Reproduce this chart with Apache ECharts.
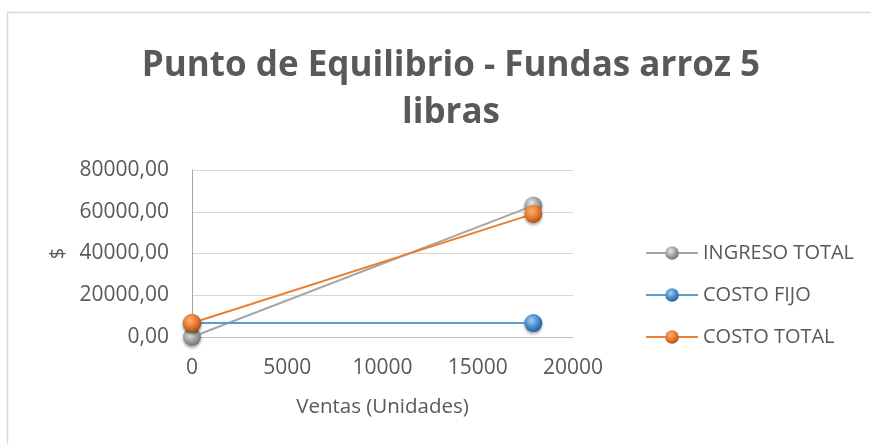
<!DOCTYPE html>
<html>
<head>
<meta charset="utf-8">
<script src="https://cdn.jsdelivr.net/npm/echarts@6/dist/echarts.min.js"></script>
<style>html,body{margin:0;padding:0;background:#fff}#c{width:871px;height:444px}</style>
</head>
<body>
<div id="c"></div>
<script>
var ventas = [0, 17917];
var ingresoTotal = [0, 62950];
var costoFijo = [6700, 6700];
var costoTotal = [6700, 58970];
var seriesNames = ['INGRESO TOTAL', 'COSTO FIJO', 'COSTO TOTAL'];
var yTicks = [0, 20000, 40000, 60000, 80000];
var xTicks = [0, 5000, 10000, 15000, 20000];

var FONT = 'Open Sans';
var TXT = '#595959';
function sphere(light, mid, dark) {
  return {type: 'radial', x: 0.4, y: 0.35, r: 0.7,
    colorStops: [{offset: 0, color: light}, {offset: 0.5, color: mid}, {offset: 1, color: dark}]};
}
var styles = [
  {line: '#a5a5a5', fill: sphere('#e8e8e8', '#a5a5a5', '#6e6e6e')},
  {line: '#5b9bd5', fill: sphere('#a9d0f2', '#4a90d0', '#22598e')},
  {line: '#ed7d31', fill: sphere('#fbb27a', '#ed7d31', '#a34d10')}
];
var dataSets = [ingresoTotal, costoFijo, costoTotal];

var chart = echarts.init(document.getElementById('c'), null, {renderer: 'canvas'});
chart.setOption({
  animation: false,
  backgroundColor: '#fff',
  textStyle: {fontFamily: FONT},
  graphic: [{type: 'rect', shape: {x: 7.5, y: 12.5, width: 900, height: 500},
    style: {fill: 'none', stroke: '#d9d9d9', lineWidth: 1.5}, z: -1}],
  title: {
    text: 'Punto de Equilibrio - Fundas arroz 5\nlibras',
    left: 446, top: 38, textAlign: 'center',
    textStyle: {fontFamily: FONT, fontWeight: 'bold', fontSize: 35, color: TXT, lineHeight: 47}
  },
  legend: {
    orient: 'vertical', left: 640, top: 238,
    itemWidth: 52, itemHeight: 17, itemGap: 22,
    textStyle: {fontFamily: FONT, fontSize: 20, color: TXT, padding: [0, 0, 0, 0]},
    data: seriesNames
  },
  grid: {left: 192, right: 298, top: 170, bottom: 107},
  xAxis: {
    type: 'value', min: 0, max: 20000, interval: 5000,
    name: 'Ventas (Unidades)', nameLocation: 'middle', nameGap: 60,
    nameTextStyle: {fontFamily: FONT, fontSize: 20.5, color: TXT},
    axisLine: {show: true, onZero: false, lineStyle: {color: '#bfbfbf'}},
    axisTick: {show: false},
    splitLine: {show: false},
    axisLabel: {fontFamily: FONT, fontSize: 21, color: TXT, margin: 21,
      formatter: function (v) { return String(v); }}
  },
  yAxis: {
    type: 'value', min: 0, max: 80000, interval: 20000,
    name: '$', nameLocation: 'middle', nameGap: 124, nameRotate: 90,
    nameTextStyle: {fontFamily: FONT, fontSize: 20, color: TXT},
    axisLine: {show: true, lineStyle: {color: '#a6a6a6'}},
    axisTick: {show: false},
    splitLine: {lineStyle: {color: '#d9d9d9', width: 1.2}},
    axisLabel: {fontFamily: FONT, fontSize: 21, color: TXT, margin: 23,
      formatter: function (v) { return v.toFixed(2).replace('.', ','); }}
  },
  series: seriesNames.map(function (n, i) {
    return {
      name: n, type: 'line',
      data: ventas.map(function (x, k) { return [x, dataSets[i][k]]; }),
      symbol: 'circle', symbolSize: 18,
      lineStyle: {color: styles[i].line, width: 2},
      itemStyle: {color: styles[i].fill, borderWidth: 0,
        shadowBlur: 3, shadowColor: 'rgba(0,0,0,0.35)', shadowOffsetY: 2},
      z: 2 + i
    };
  })
});
</script>
</body>
</html>
